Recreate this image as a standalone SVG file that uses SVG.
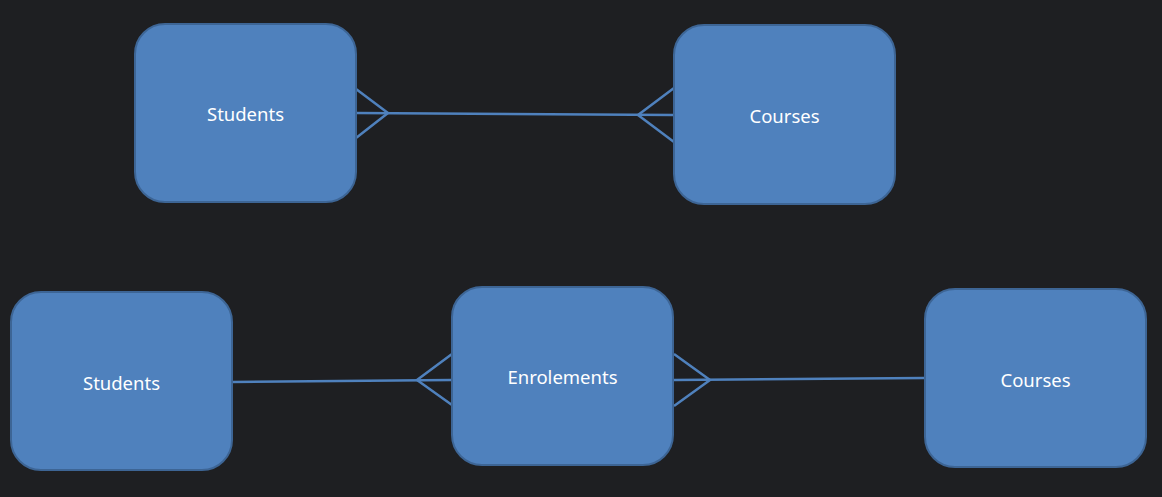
<svg xmlns="http://www.w3.org/2000/svg" width="1162" height="497" viewBox="0 0 1162 497">
<style>
.box{fill:#4f81bd;stroke:#3d6595;stroke-width:2}
.lbl{fill:#ffffff;font-family:"Noto Sans","Open Sans","Liberation Sans",sans-serif;font-size:18.5px;text-anchor:middle;dominant-baseline:central}
.conn{fill:none;stroke:#4f81bd;stroke-width:2.5}
</style>
<rect width="1162" height="497" fill="#1e1f22"/>
<g id="connectors">
<path class="conn" d="M356,113 L674,115"/>
<path class="conn" d="M356,89 L388,113 L356,138"/>
<path class="conn" d="M674,88 L638,115 L674,142"/>
<path class="conn" d="M232,382 L452,380"/>
<path class="conn" d="M452,354 L417,380 L452,405"/>
<path class="conn" d="M674,380 L924,378"/>
<path class="conn" d="M674,354 L710,380 L674,406"/>
</g>
<g id="students-top"><rect class="box" x="135" y="24" width="221" height="178" rx="30"/><text class="lbl" x="245.5" y="113">Students</text></g>
<g id="courses-top"><rect class="box" x="674" y="25" width="221" height="179" rx="30"/><text class="lbl" x="784.5" y="115">Courses</text></g>
<g id="students-bottom"><rect class="box" x="11" y="292" width="221" height="178" rx="30"/><text class="lbl" x="121.5" y="382">Students</text></g>
<g id="enrolements"><rect class="box" x="452" y="287" width="221" height="178" rx="30"/><text class="lbl" x="562.5" y="376">Enrolements</text></g>
<g id="courses-bottom"><rect class="box" x="925" y="289" width="221" height="178" rx="30"/><text class="lbl" x="1035.5" y="379">Courses</text></g>
</svg>
